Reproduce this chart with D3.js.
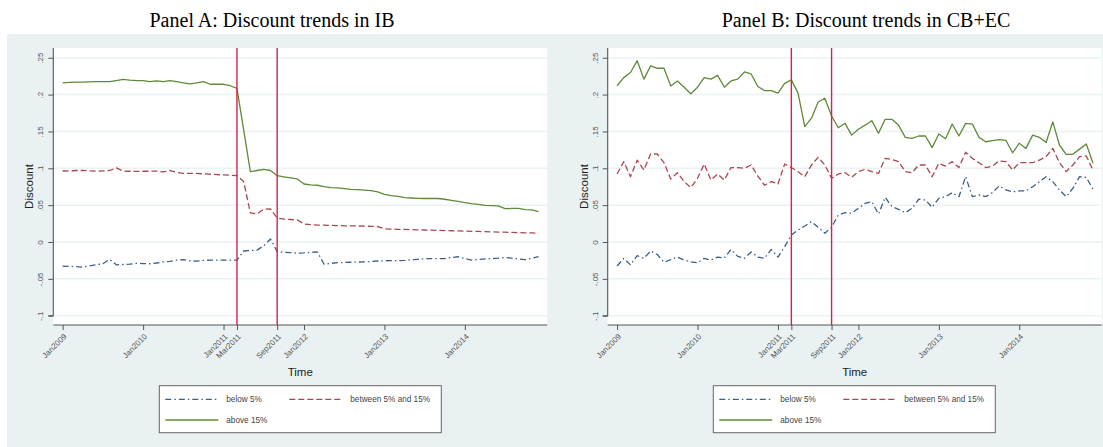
<!DOCTYPE html>
<html><head><meta charset="utf-8">
<script src="https://cdn.jsdelivr.net/npm/d3@7"></script>
<style>
html,body{margin:0;padding:0;background:#fff;}
svg{display:block;}
</style></head>
<body>
<svg id="chart" width="1103" height="447"></svg>
<script>
// ---------- DATA ----------
const months = Array.from({length: 72}, (_, i) => i); // Jan2009 ... Dec2014 (month index)
const xTickMonths = [0, 12, 24, 26, 32, 36, 48, 60];
const xTickLabels = ["Jan2009", "Jan2010", "Jan2011", "Mar2011", "Sep2011", "Jan2012", "Jan2013", "Jan2014"];
const policyMonths = [26, 32]; // Mar2011, Sep2011
const yTicks = [-0.1, -0.05, 0, 0.05, 0.1, 0.15, 0.2, 0.25];
const yTickLabels = ["-.1", "-.05", "0", ".05", ".1", ".15", ".2", ".25"];
const seriesNames = ["below 5%", "between 5% and 15%", "above 15%"];
const panelTitles = ["Panel A: Discount trends in IB", "Panel B: Discount trends in CB+EC"];

const A_below = [-.0326,-.033,-.0335,-.034,-.0325,-.031,-.0295,-.0235,-.031,-.0305,
  -.030,-.029,-.0292,-.0295,-.0285,-.027,-.0262,-.0245,-.024,-.0255,
  -.026,-.025,-.0245,-.0245,-.0245,-.0245,-.0245,-.0122,-.0115,-.011,
  -.005,.004,-.013,-.014,-.0145,-.015,-.0148,-.014,-.0135,-.0302,
  -.029,-.028,-.0278,-.0275,-.0272,-.027,-.0265,-.0258,-.0255,-.0253,
  -.0252,-.025,-.0242,-.0235,-.0226,-.0226,-.0226,-.0226,-.021,-.020,
  -.0225,-.0245,-.0238,-.023,-.0225,-.022,-.021,-.022,-.023,-.024,
  -.0222,-.0198];
const A_between = [.0963,.0965,.097,.097,.0965,.096,.0965,.097,.1005,.0963,
  .096,.0958,.096,.096,.0962,.095,.097,.0945,.0932,.0932,
  .093,.0925,.092,.0915,.091,.0905,.090,.082,.0395,.038,
  .0445,.0448,.0326,.031,.0305,.030,.0245,.0235,.023,.0228,
  .0225,.0223,.022,.022,.0218,.0215,.0212,.021,.0178,.0175,
  .0172,.017,.0168,.0165,.0163,.016,.0158,.0155,.0153,.015,
  .0148,.0145,.0143,.014,.0138,.0135,.0133,.013,.0128,.0125,
  .0123,.012];
const A_above = [.216,.2165,.217,.217,.2172,.2175,.2175,.2175,.219,.2205,
  .2195,.219,.219,.2175,.2185,.2175,.2188,.2175,.216,.2145,
  .2158,.2175,.214,.2142,.214,.212,.2085,.152,.0955,.097,
  .0985,.097,.090,.0885,.087,.0855,.0787,.0775,.077,.075,
  .0737,.0733,.0725,.0715,.071,.0703,.0696,.068,.0647,.063,
  .0618,.0602,.0597,.0593,.059,.0592,.059,.058,.0566,.055,
  .0534,.052,.051,.0498,.0494,.049,.0452,.0455,.0455,.0438,
  .0437,.0411];

const B_below = [-.0326,-.0222,-.031,-.0186,-.0222,-.0122,-.017,-.0276,-.024,-.0204,
  -.0245,-.027,-.028,-.0222,-.0245,-.0204,-.0217,-.010,-.0195,-.0222,
  -.0136,-.0204,-.0222,-.010,-.0204,-.0063,.0095,.0163,.0217,.0276,
  .020,.012,.020,.0366,.0398,.039,.0457,.0525,.0548,.038,
  .0606,.0479,.0443,.0398,.0457,.058,.057,.047,.0593,.0615,
  .067,.0615,.0886,.0615,.0638,.0615,.067,.076,.0706,.068,
  .0693,.0693,.075,.0818,.0886,.0818,.0706,.0615,.0728,.0886,
  .0877,.0715];
const B_between = [.0923,.109,.0886,.111,.0977,.1194,.1194,.1076,.0855,.094,
  .082,.0737,.0864,.1058,.0841,.0923,.0841,.101,.101,.100,
  .1045,.0895,.077,.082,.0787,.1058,.101,.0954,.0886,.1045,
  .1149,.1045,.0864,.0923,.094,.0878,.0955,.0986,.0955,.093,
  .1135,.112,.109,.0955,.094,.1045,.1045,.0886,.1067,.103,
  .109,.101,.1217,.1135,.1076,.101,.103,.110,.109,.0977,
  .1076,.1076,.1076,.111,.1158,.127,.1076,.0955,.1045,.1158,
  .1167,.0977];
const B_above = [.212,.223,.230,.246,.221,.239,.2357,.2357,.2117,.2185,
  .210,.2012,.210,.223,.221,.226,.210,.2185,.221,.2307,
  .228,.211,.2053,.2053,.202,.2153,.220,.202,.1565,.168,
  .190,.195,.171,.155,.161,.145,.153,.1585,.1646,.1475,
  .1665,.1665,.1583,.142,.1407,.1438,.1438,.128,.1465,.1402,
  .160,.1438,.161,.160,.142,.136,.1375,.139,.138,.121,
  .134,.127,.145,.142,.135,.163,.1316,.119,.119,.126,
  .133,.1068];

// ---------- STYLE ----------
const colors = ["#3b5f86", "#a9474f", "#5f8a3a"];
const dashes = ["6,3,1.5,3", "6,3", null];
const bgColor = "#eaf1f3";
const gridColor = "#eaf2f3";
const policyColor = "#d8204c";

const svg = d3.select("#chart");
svg.append("rect").attr("x", 7).attr("y", 34).attr("width", 1096).attr("height", 413).attr("fill", bgColor);

const panels = [
  {title: panelTitles[0], titleX: 272, left: 53.3, legendX: 159.3, data: [A_below, A_between, A_above]},
  {title: panelTitles[1], titleX: 866, left: 607.7, legendX: 713.3, data: [B_below, B_between, B_above]}
];

const plotTop = 48, plotBottom = 325, plotW = 494;

panels.forEach(p => {
  const g = svg.append("g");
  // title
  g.append("text").attr("x", p.titleX).attr("y", 27).attr("text-anchor", "middle")
    .attr("font-family", "'Liberation Serif','Times New Roman',serif").attr("font-size", 20)
    .attr("fill", "#000").text(p.title);

  const x = d3.scaleLinear().domain([-1.4, 72.3]).range([p.left, p.left + plotW]);
  const y = d3.scaleLinear().domain([-0.1126, 0.2632]).range([plotBottom, plotTop]);

  // plot region
  g.append("rect").attr("x", p.left).attr("y", plotTop).attr("width", plotW).attr("height", plotBottom - plotTop).attr("fill", "#fff");

  // grid
  g.selectAll(".grid").data(yTicks).join("line")
    .attr("x1", p.left).attr("x2", p.left + plotW)
    .attr("y1", d => y(d)).attr("y2", d => y(d))
    .attr("stroke", gridColor).attr("stroke-width", 1.5);

  // series
  const line = d3.line().x((d, i) => x(months[i])).y(d => y(d));
  p.data.forEach((s, k) => {
    g.append("path").datum(s).attr("d", line).attr("fill", "none")
      .attr("stroke", colors[k]).attr("stroke-width", 1.3)
      .attr("stroke-dasharray", dashes[k]).attr("stroke-linejoin", "round");
  });

  // policy lines
  g.selectAll(".pol").data(policyMonths).join("line")
    .attr("x1", d => x(d)).attr("x2", d => x(d))
    .attr("y1", plotTop).attr("y2", plotBottom)
    .attr("stroke", policyColor).attr("stroke-width", 1.4);

  // y axis
  const yAxis = d3.axisLeft(y).tickValues(yTicks).tickFormat((d, i) => yTickLabels[i]).tickSize(5).tickPadding(3);
  const ya = g.append("g").attr("transform", `translate(${p.left},0)`).call(yAxis);
  ya.select(".domain").attr("stroke", "#555").attr("stroke-width", 1.1).attr("d", `M-5,${y(-0.1)}H0V${plotTop}`);
  ya.selectAll(".tick line").attr("stroke", "#555");
  ya.selectAll(".tick text").attr("font-family", "'Liberation Sans',Arial,sans-serif").attr("font-size", 8)
    .attr("fill", "#555").attr("text-anchor", "middle")
    .attr("x", null).attr("dy", null)
    .attr("transform", "translate(-10,0) rotate(-90)");

  // x axis
  const xAxis = d3.axisBottom(x).tickValues(xTickMonths).tickFormat((d, i) => xTickLabels[i]).tickSize(5);
  const xa = g.append("g").attr("transform", `translate(0,${plotBottom})`).call(xAxis);
  xa.select(".domain").attr("stroke", "#555").attr("stroke-width", 1.1).attr("d", `M${p.left},0H${p.left + plotW}`);
  xa.selectAll(".tick line").attr("stroke", "#555");
  xa.selectAll(".tick text").attr("font-family", "'Liberation Sans',Arial,sans-serif").attr("font-size", 8)
    .attr("fill", "#555").attr("text-anchor", "end")
    .attr("y", null).attr("dy", null)
    .attr("transform", "translate(4,12) rotate(-45)");

  // axis titles
  g.append("text").attr("x", p.left + plotW / 2).attr("y", 376).attr("text-anchor", "middle")
    .attr("font-family", "'Liberation Sans',Arial,sans-serif").attr("font-size", 11.5).attr("fill", "#222").text("Time");
  g.append("text").attr("transform", `translate(${p.left - 20},${(plotTop + plotBottom) / 2}) rotate(-90)`)
    .attr("text-anchor", "middle")
    .attr("font-family", "'Liberation Sans',Arial,sans-serif").attr("font-size", 11.5).attr("fill", "#222").text("Discount");

  // legend
  const lg = g.append("g").attr("transform", `translate(${p.legendX},385.7)`);
  lg.append("rect").attr("width", 282).attr("height", 47).attr("fill", "#fff").attr("stroke", "#666").attr("stroke-width", 1);
  const items = [{k: 0, dx: 6, dy: 13.6}, {k: 1, dx: 130, dy: 13.6}, {k: 2, dx: 6, dy: 34.3}];
  items.forEach(it => {
    lg.append("line").attr("x1", it.dx).attr("x2", it.dx + 53).attr("y1", it.dy).attr("y2", it.dy)
      .attr("stroke", colors[it.k]).attr("stroke-width", 1.3).attr("stroke-dasharray", dashes[it.k]);
    lg.append("text").attr("x", it.dx + 61).attr("y", it.dy + 3)
      .attr("font-family", "'Liberation Sans',Arial,sans-serif").attr("font-size", 8.2).attr("fill", "#444")
      .text(seriesNames[it.k]);
  });
});
</script>
</body></html>
